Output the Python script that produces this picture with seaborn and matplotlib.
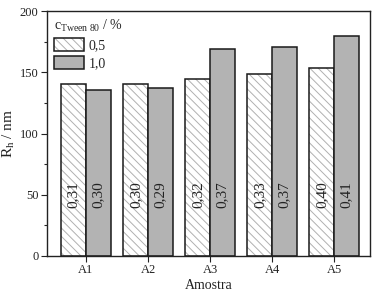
import matplotlib
matplotlib.use("Agg")
import matplotlib.pyplot as plt
import matplotlib.colors as mcolors
from matplotlib.ticker import MultipleLocator
import seaborn as sns
import pandas as pd

samples = ["A1", "A2", "A3", "A4", "A5"]
conc_labels = ["0,5", "1,0"]
rh_05 = [140.5, 140.3, 144.5, 148.6, 153.2]
rh_10 = [135.5, 137.0, 168.7, 170.4, 179.6]
pdi_05 = ["0,31", "0,30", "0,32", "0,33", "0,40"]
pdi_10 = ["0,30", "0,29", "0,37", "0,37", "0,41"]

df = pd.DataFrame({
    "Amostra": samples * 2,
    "conc": [conc_labels[0]] * 5 + [conc_labels[1]] * 5,
    "Rh": rh_05 + rh_10,
    "pdi": pdi_05 + pdi_10,
})

sns.set_theme(style="ticks")
plt.rcParams["font.family"] = ["Liberation Serif", "DejaVu Serif"]
plt.rcParams["mathtext.fontset"] = "custom"
plt.rcParams["mathtext.rm"] = "Liberation Serif"
plt.rcParams["mathtext.it"] = "Liberation Serif:italic"
plt.rcParams["hatch.linewidth"] = 0.7

fig, ax = plt.subplots(figsize=(3.75, 2.99), dpi=100)
fig.subplots_adjust(left=0.125, right=0.987, top=0.963, bottom=0.144)

sns.barplot(data=df, x="Amostra", y="Rh", hue="conc",
            palette=["white", "#b3b3b3"], edgecolor="#1a1a1a", linewidth=1.1,
            width=0.8, gap=0, ax=ax, legend=False)

hatch_rgba = mcolors.to_rgba("#b0b0b0")
for bar in ax.containers[0]:
    bar.set_hatch("\\\\\\\\")
    bar._hatch_color = hatch_rgba
    bar.stale = True

for cont, labels in zip(ax.containers, [pdi_05, pdi_10]):
    for bar, lab in zip(cont, labels):
        ax.text(bar.get_x() + bar.get_width() / 2, 50, lab, rotation=90,
                rotation_mode="anchor", ha="center", va="center",
                fontsize=11, color="#222222")

ax.set_ylim(0, 200)
ax.set_xlim(-0.63, 4.58)
ax.yaxis.set_major_locator(MultipleLocator(50))
ax.yaxis.set_minor_locator(MultipleLocator(25))
ax.tick_params(axis="both", which="major", length=4, width=0.8,
               labelsize=9, colors="#222222", direction="out", pad=2)
ax.tick_params(axis="y", which="minor", length=2.5, width=0.8, direction="out")
for s in ax.spines.values():
    s.set_visible(True)
    s.set_linewidth(1.0)
    s.set_color("#222222")

ax.set_xlabel("Amostra", fontsize=10, color="#222222", labelpad=2)
ax.set_ylabel(r"R$_{\mathrm{h}}$ / nm", fontsize=11, color="#222222", labelpad=2)

handles = [ax.containers[0][0], ax.containers[1][0]]
leg = ax.legend(handles, conc_labels, title=r"c$_{\mathrm{Tween\ 80}}$ / %",
                loc="upper left", frameon=False, fontsize=10,
                title_fontsize=10, handlelength=2.2, handleheight=1.0,
                handletextpad=0.3, labelspacing=0.3,
                borderaxespad=0.2, borderpad=0.3, alignment="left")

fig.savefig("out.png", dpi=100)
